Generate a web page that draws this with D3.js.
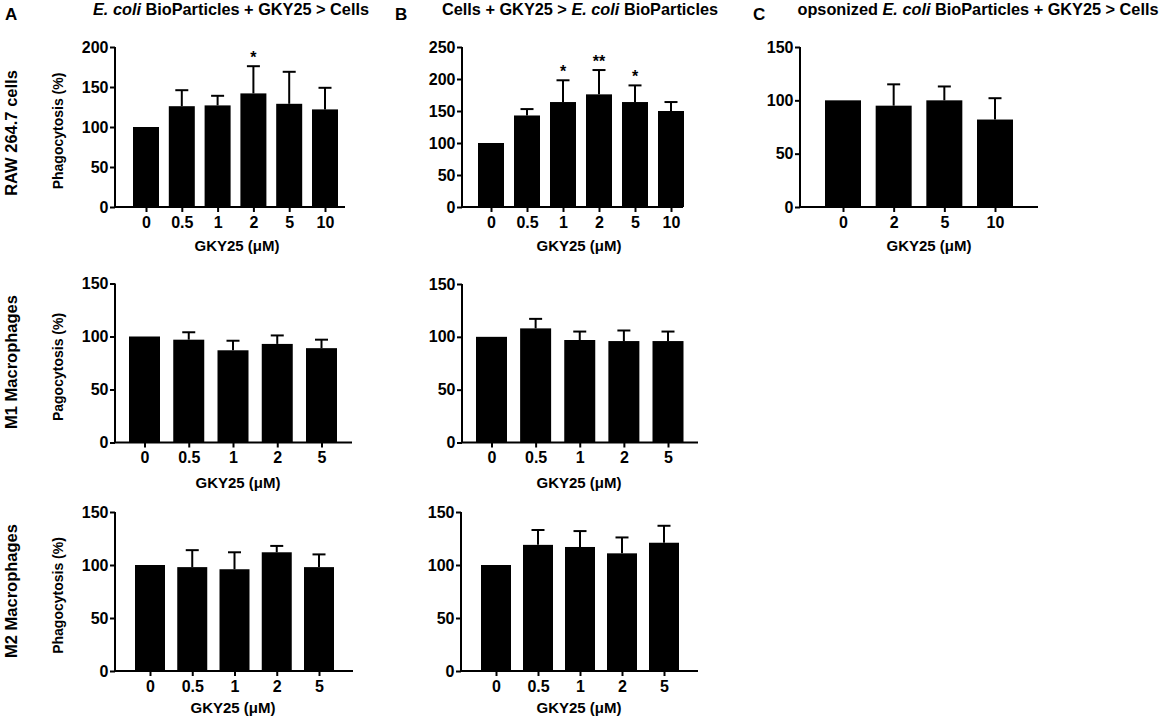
<!DOCTYPE html>
<html>
<head>
<meta charset="utf-8">
<script src="https://cdn.jsdelivr.net/npm/d3@7"></script>
<style>
  body { margin: 0; background: #fff; }
  svg text { font-family: "Liberation Sans", Arial, Helvetica, sans-serif; font-weight: bold; fill: #000; }
</style>
</head>
<body>
<svg width="1168" height="719"></svg>
<script>
// categories (GKY25 concentration, µM)
var conc6 = ["0", "0.5", "1", "2", "5", "10"];
var conc5 = ["0", "0.5", "1", "2", "5"];
var conc4 = ["0", "2", "5", "10"];

// RAW 264.7 cells
var rawEcoliMean = [100, 126, 127, 142, 129, 122];
var rawEcoliErr  = [0, 20, 12, 34, 40, 27];
var rawEcoliSig  = ["", "", "", "*", "", ""];

var rawCellsMean = [100, 143, 164, 176, 164, 150];
var rawCellsErr  = [0, 10, 34, 38, 26, 14];
var rawCellsSig  = ["", "", "*", "**", "*", ""];

var rawOpsMean = [100, 95, 100, 82];
var rawOpsErr  = [0, 20, 13, 20];

// M1 macrophages
var m1EcoliMean = [100, 97, 87, 93, 89];
var m1EcoliErr  = [0, 7, 9, 8, 8];
var m1CellsMean = [100, 108, 97, 96, 96];
var m1CellsErr  = [0, 9, 8, 10, 9];

// M2 macrophages
var m2EcoliMean = [100, 98, 96, 112, 98];
var m2EcoliErr  = [0, 16, 16, 6, 12];
var m2CellsMean = [100, 119, 117, 111, 121];
var m2CellsErr  = [0, 14, 15, 15, 16];

var yTicks200 = [0, 50, 100, 150, 200];
var yTicks250 = [0, 50, 100, 150, 200, 250];
var yTicks150 = [0, 50, 100, 150];

var svg = d3.select("svg");

var panels = [
  { cats: conc6, mean: rawEcoliMean, err: rawEcoliErr, sig: rawEcoliSig, ticks: yTicks200,
    x0: 115, x1: 345, c0: 146, c1: 325, barW: 26, top: 47, bottom: 207,
    yTitle: "Phagocytosis (%)", xTitleX: 237, xTitleDy: 38 },
  { cats: conc6, mean: rawCellsMean, err: rawCellsErr, sig: rawCellsSig, ticks: yTicks250,
    x0: 462, x1: 683, c0: 491, c1: 671, barW: 26, top: 47, bottom: 207,
    xTitleX: 579, xTitleDy: 38 },
  { cats: conc4, mean: rawOpsMean, err: rawOpsErr, ticks: yTicks150,
    x0: 800, x1: 1038, c0: 843, c1: 995, barW: 36, top: 47, bottom: 207,
    xTitleX: 929, xTitleDy: 38 },
  { cats: conc5, mean: m1EcoliMean, err: m1EcoliErr, ticks: yTicks150,
    x0: 115, x1: 352, c0: 144.5, c1: 321.5, barW: 31, top: 283.5, bottom: 442.5,
    yTitle: "Pagocytosis (%)", xTitleX: 238, xTitleDy: 40 },
  { cats: conc5, mean: m1CellsMean, err: m1CellsErr, ticks: yTicks150,
    x0: 462, x1: 698, c0: 491.5, c1: 668, barW: 31, top: 284, bottom: 442.5,
    xTitleX: 579, xTitleDy: 40 },
  { cats: conc5, mean: m2EcoliMean, err: m2EcoliErr, ticks: yTicks150,
    x0: 115, x1: 353, c0: 150, c1: 319, barW: 30, top: 512, bottom: 671,
    yTitle: "Phagocytosis (%)", xTitleX: 233, xTitleDy: 36 },
  { cats: conc5, mean: m2CellsMean, err: m2CellsErr, ticks: yTicks150,
    x0: 461, x1: 698, c0: 496, c1: 664, barW: 30, top: 512, bottom: 671,
    xTitleX: 579, xTitleDy: 36 }
];

panels.forEach(function (p) {
  var yMax = d3.max(p.ticks);
  var x = d3.scalePoint().domain(p.cats).range([p.c0, p.c1]);
  var y = d3.scaleLinear().domain([0, yMax]).range([p.bottom, p.top]);

  var data = p.cats.map(function (c, i) {
    return { cat: c, mean: p.mean[i], err: p.err[i], sig: p.sig ? p.sig[i] : "" };
  });

  var g = svg.append("g");

  // bars
  g.selectAll("rect.bar")
    .data(data)
    .enter().append("rect")
    .attr("class", "bar")
    .attr("x", function (d) { return x(d.cat) - p.barW / 2; })
    .attr("width", p.barW)
    .attr("y", function (d) { return y(d.mean); })
    .attr("height", function (d) { return y(0) - y(d.mean); })
    .attr("fill", "#000");

  // upper error bars
  var eb = g.selectAll("g.err")
    .data(data.filter(function (d) { return d.err > 0; }))
    .enter().append("g")
    .attr("class", "err")
    .attr("stroke", "#000")
    .attr("stroke-width", 2);
  eb.append("line")
    .attr("x1", function (d) { return x(d.cat); })
    .attr("x2", function (d) { return x(d.cat); })
    .attr("y1", function (d) { return y(d.mean); })
    .attr("y2", function (d) { return y(d.mean + d.err); });
  eb.append("line")
    .attr("x1", function (d) { return x(d.cat) - 6.5; })
    .attr("x2", function (d) { return x(d.cat) + 6.5; })
    .attr("y1", function (d) { return y(d.mean + d.err); })
    .attr("y2", function (d) { return y(d.mean + d.err); });

  // significance stars
  g.selectAll("text.sig")
    .data(data.filter(function (d) { return d.sig; }))
    .enter().append("text")
    .attr("class", "sig")
    .attr("x", function (d) { return x(d.cat); })
    .attr("y", function (d) { return y(d.mean + d.err) - 3; })
    .attr("text-anchor", "middle")
    .style("font-size", "16px")
    .text(function (d) { return d.sig; });

  // y axis
  var ya = g.append("g")
    .attr("transform", "translate(" + p.x0 + ",0)")
    .call(d3.axisLeft(y).tickValues(p.ticks).tickSize(5).tickSizeOuter(0).tickPadding(1.5));
  ya.select(".domain").attr("stroke-width", 2).attr("d", "M0," + y(yMax) + "V" + y(0));
  ya.selectAll(".tick line").attr("stroke-width", 2);
  ya.selectAll("text").style("font-size", "16px").attr("font-family", null);

  // x axis
  var xa = g.append("g")
    .attr("transform", "translate(0," + p.bottom + ")")
    .call(d3.axisBottom(x).tickSize(5).tickSizeOuter(0).tickPadding(4.5));
  xa.select(".domain").attr("stroke-width", 2).attr("d", "M" + (p.x0 - 1) + ",0H" + p.x1);
  xa.selectAll(".tick line").attr("stroke-width", 2);
  xa.selectAll("text").style("font-size", "16px").attr("font-family", null);

  // axis titles
  g.append("text")
    .attr("x", p.xTitleX)
    .attr("y", p.bottom + p.xTitleDy)
    .attr("text-anchor", "middle")
    .attr("dominant-baseline", "central")
    .style("font-size", "15px")
    .text("GKY25 (\u03BCM)");

  if (p.yTitle) {
    g.append("text")
      .attr("transform", "translate(58," + ((p.top + p.bottom) / 2 + 4) + ") rotate(-90)")
      .attr("text-anchor", "middle")
      .attr("dominant-baseline", "central")
      .style("font-size", "14px")
      .text(p.yTitle);
  }
});

// row labels
var rowLabels = ["RAW 264.7 cells", "M1 Macrophages", "M2 Macrophages"];
var rowCenters = [133, 362, 591];
svg.selectAll("text.row")
  .data(rowLabels)
  .enter().append("text")
  .attr("class", "row")
  .attr("transform", function (d, i) { return "translate(11," + rowCenters[i] + ") rotate(-90)"; })
  .attr("text-anchor", "middle")
  .attr("dominant-baseline", "central")
  .style("font-size", "16.5px")
  .text(function (d) { return d; });

// panel letters
var letters = [{ t: "A", x: 5 }, { t: "B", x: 395 }, { t: "C", x: 753 }];
svg.selectAll("text.letter")
  .data(letters)
  .enter().append("text")
  .attr("class", "letter")
  .attr("x", function (d) { return d.x; })
  .attr("y", 20)
  .style("font-size", "17px")
  .text(function (d) { return d.t; });

// column titles (with italic species name)
function title(cx, parts) {
  var t = svg.append("text")
    .attr("x", cx)
    .attr("y", 15)
    .attr("text-anchor", "middle")
    .style("font-size", "16.3px");
  parts.forEach(function (s) {
    t.append("tspan")
      .style("font-style", s[1] ? "italic" : "normal")
      .text(s[0]);
  });
}
title(231, [["E. coli", true], [" BioParticles + GKY25 > Cells", false]]);
title(580, [["Cells + GKY25 > ", false], ["E. coli", true], [" BioParticles", false]]);
title(978, [["opsonized ", false], ["E. coli", true], [" BioParticles + GKY25 > Cells", false]]);
</script>
</body>
</html>
